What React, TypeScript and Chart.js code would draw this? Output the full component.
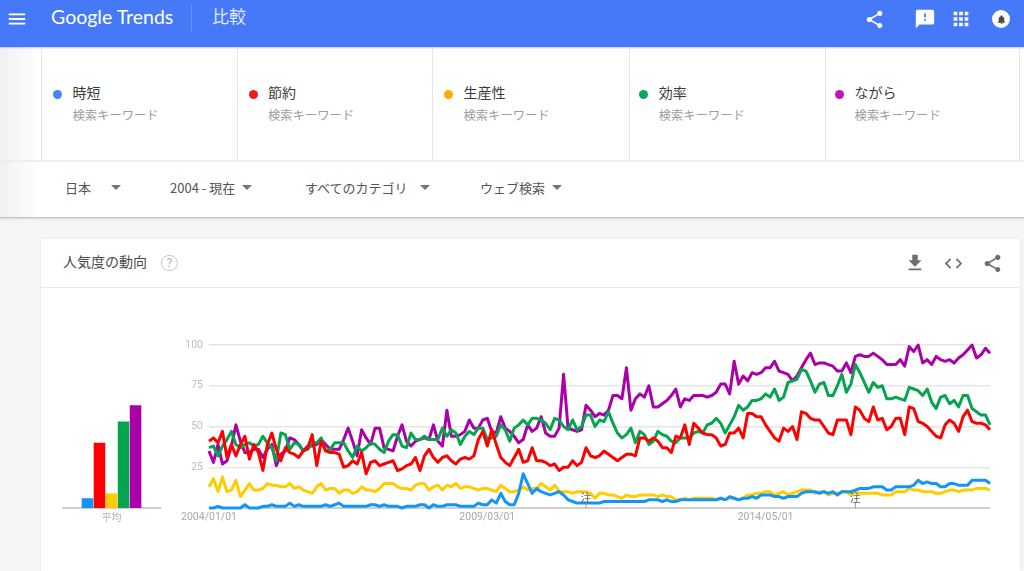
import React, { useEffect, useRef } from "react";
import { Chart, registerables } from "chart.js";

Chart.register(...registerables);

const seriesNames = ["時短", "節約", "生産性", "効率", "ながら"];
const lineColors = ["#1196f8", "#ff0000", "#ffcc00", "#06a44f", "#aa00aa"];
const dotColors = ["#4285f4", "#ee1c1c", "#fbae00", "#09a85a", "#c013c0"];
const averages = [6, 40, 9, 53, 63];
const tickLabels = ["2004/01/01", "2009/03/01", "2014/05/01"];
const noteDates = ["2011/01/01", "2016/01/01"];
const filters = ["日本", "2004 - 現在", "すべてのカテゴリ", "ウェブ検索"];

const months: string[] = [];
for (let y = 2004, m = 1; months.length < 175; m++) {
  if (m > 12) { m = 1; y++; }
  months.push(`${y}/${String(m).padStart(2, "0")}/01`);
}

const jitan = [
  0,0,1,0,0,0,0,0,2,0, 0,0,1,1,2,1,1,1,3,1, 2,1,1,1,1,1,2,1,2,3, 1,1,1,1,1,1,2,2,1,2, 1,1,1,0,1,1,1,2,2,0, 2,1,1,2,
  2,2,1,1,1,1,3,2,2,5, 3,9,4,2,2,9,21,15,9,12, 10,9,8,9,10,8,5,4,3,3, 3,3,3,3,4,4,4,4,4,4, 4,4,4,4,5,5,5,4,5,4, 4,5,5,5,5,5,5,5,5,5,
  6,5,7,6,5,6,6,7,6,8, 8,8,7,7,6,7,7,7,9,10, 10,10,9,10,9,10,8,10,10,10, 11,12,12,12,13,13,13,11,11,13, 13,13,13,14,17,15,16,15,15,13, 13,15,15,14,14,14,17,17,17,17, 15,
];
const setsuyaku = [
  41,43,40,47,31,39,32,39,44,30, 39,34,23,39,46,36,29,37,34,33, 31,35,37,45,26,41,35,34,34,33, 25,26,29,27,34,21,28,29,26,27, 28,29,23,24,26,27,31,23,32,36, 31,28,31,32,
  29,27,30,31,30,32,42,47,38,48, 39,31,28,26,31,36,28,29,37,29, 29,28,26,27,23,25,25,29,26,28, 37,32,31,32,35,33,31,29,31,33, 33,32,43,43,41,43,41,37,37,34, 44,43,51,39,52,49,46,45,45,43,
  38,39,46,46,49,43,58,58,56,56, 51,47,43,41,49,47,50,42,59,58, 55,54,54,50,46,45,54,54,54,45, 62,60,55,53,62,54,55,48,50,55, 55,45,62,61,53,52,50,47,44,43, 51,54,52,47,56,60,53,52,52,51, 48,
];
const seisansei = [
  13,18,10,19,10,11,17,7,11,15, 11,11,12,15,14,14,13,13,15,12, 13,11,10,9,13,15,11,12,12,9, 11,11,9,10,13,11,11,10,12,15, 15,15,13,12,12,11,14,15,15,11, 13,14,11,14,
  13,15,12,13,13,12,11,12,12,11, 10,14,12,10,10,11,13,11,12,12, 15,13,11,14,10,10,10,9,10,10, 10,9,6,9,9,8,8,7,6,8, 7,7,8,8,8,8,7,8,7,7, 5,5,6,5,6,6,6,6,6,5,
  6,5,6,6,5,6,8,8,9,9, 10,10,8,9,10,8,9,10,11,11, 11,9,10,10,8,9,9,10,10,8, 10,9,9,9,9,9,8,8,8,10, 10,10,12,11,11,10,10,10,9,9, 10,11,11,10,11,11,11,12,12,12, 11,
];
const kouritsu = [
  37,38,32,38,42,47,39,37,39,40, 38,39,44,40,37,29,46,45,36,40, 39,35,36,40,40,43,35,36,40,40, 40,35,31,38,35,37,40,39,36,34, 41,45,45,38,37,46,42,42,44,42, 42,42,49,44,
  48,46,39,44,47,45,49,49,42,43, 44,51,48,41,49,51,54,51,55,55, 54,52,48,55,54,50,48,54,48,50, 57,57,50,54,53,59,52,46,43,45, 49,40,47,45,39,41,47,45,44,41, 40,43,43,43,46,47,46,51,52,55,
  52,46,51,56,63,60,62,66,66,67, 70,68,73,66,68,77,78,79,85,84, 78,71,76,77,69,69,75,82,71,76, 88,83,77,71,77,74,75,67,67,68, 67,66,74,73,72,69,73,65,61,68, 69,64,66,62,69,69,61,59,57,57, 51,
];
const nagara = [
  35,28,39,27,29,38,51,41,34,34, 36,36,31,36,39,26,33,35,43,42, 39,35,38,38,39,42,39,36,36,36, 42,49,41,32,48,43,39,49,49,37, 36,35,44,51,41,38,41,42,43,42, 51,41,38,60,
  44,44,45,47,54,49,49,54,55,47, 46,56,49,47,44,40,42,51,47,49, 56,46,44,44,49,82,49,48,47,48, 63,60,56,58,57,60,69,69,67,86, 60,67,70,68,75,62,62,64,66,69, 73,62,67,66,69,69,69,68,69,71,
  76,76,70,90,76,81,78,83,82,83, 86,86,90,84,83,82,78,81,86,91, 95,88,89,89,88,87,84,84,89,83, 93,94,93,93,95,93,91,88,88,88, 91,87,99,96,100,89,91,88,93,91, 90,91,89,92,94,97,100,92,94,98, 95,
];
const seriesValues = [jitan, setsuyaku, seisansei, kouritsu, nagara];

const cjk = '"Noto Sans CJK JP", Roboto, sans-serif';
const icons = {
  menu: "M3 18h18v-2H3v2zm0-5h18v-2H3v2zm0-7v2h18V6H3z",
  share: "M18 16.08c-.76 0-1.44.3-1.96.77L8.91 12.7c.05-.23.09-.46.09-.7s-.04-.47-.09-.7l7.05-4.11c.54.5 1.25.81 2.04.81 1.66 0 3-1.34 3-3s-1.34-3-3-3-3 1.34-3 3c0 .24.04.47.09.7L8.04 9.81C7.5 9.31 6.79 9 6 9c-1.66 0-3 1.34-3 3s1.34 3 3 3c.79 0 1.5-.31 2.04-.81l7.12 4.16c-.05.21-.08.43-.08.65 0 1.61 1.31 2.92 2.92 2.92 1.61 0 2.92-1.31 2.92-2.92s-1.31-2.92-2.92-2.92z",
  feedback: "M20 2H4c-1.1 0-1.99.9-1.99 2L2 22l4-4h14c1.1 0 2-.9 2-2V4c0-1.1-.9-2-2-2zm-7 12h-2v-2h2v2zm0-4h-2V6h2v4z",
  apps: "M4 8h4V4H4v4zm6 12h4v-4h-4v4zm-6 0h4v-4H4v4zm0-6h4v-4H4v4zm6 0h4v-4h-4v4zm6-10v4h4V4h-4zm-6 4h4V4h-4v4zm6 6h4v-4h-4v4zm0 6h4v-4h-4v4z",
  download: "M19 9h-4V3H9v6H5l7 7 7-7zM5 18v2h14v-2H5z",
  code: "M9.4 16.6L4.8 12l4.6-4.6L8 6l-6 6 6 6 1.4-1.4zm5.2 0l4.6-4.6-4.6-4.6L16 6l6 6-6 6-1.4-1.4z",
  bell: "M12 22c1.1 0 2-.9 2-2h-4c0 1.1.89 2 2 2zm6-6v-5c0-3.07-1.64-5.64-4.5-6.32V4c0-.83-.67-1.5-1.5-1.5s-1.5.67-1.5 1.5v.68C7.63 5.36 6 7.92 6 11v5l-2 2v1h16v-1l-2-2z",
};

function Icon({ d, cx, cy, size, color }: { d: string; cx: number; cy: number; size: number; color: string }) {
  return (
    <svg viewBox="0 0 24 24" width={size} height={size}
      style={{ position: "absolute", left: cx - size / 2, top: cy - size / 2 }}>
      <path d={d} fill={color} />
    </svg>
  );
}

function Text({ x, cy, size, color, children, font }: any) {
  return (
    <div style={{ position: "absolute", left: x, top: cy - 15, height: 30, lineHeight: "30px", fontSize: size, color, fontFamily: font || cjk, whiteSpace: "nowrap" }}>
      {children}
    </div>
  );
}

function Arrow({ cx, cy }: { cx: number; cy: number }) {
  return (
    <div style={{ position: "absolute", left: cx - 5, top: cy - 2, width: 0, height: 0, borderLeft: "5px solid transparent", borderRight: "5px solid transparent", borderTop: "5px solid #757575" }} />
  );
}

const notePlugin = {
  id: "notes",
  afterDatasetsDraw(chart: any) {
    const { ctx, scales } = chart;
    ctx.save();
    noteDates.forEach((d) => {
      const x = scales.x.getPixelForValue(months.indexOf(d));
      const base = scales.y.getPixelForValue(0);
      ctx.strokeStyle = "#999";
      ctx.lineWidth = 1;
      ctx.beginPath();
      ctx.moveTo(x, base - 6);
      ctx.lineTo(x, base);
      ctx.stroke();
      ctx.fillStyle = "#666";
      ctx.font = `11px ${cjk}`;
      ctx.textAlign = "center";
      ctx.textBaseline = "middle";
      ctx.fillText("注", x, base - 10);
    });
    ctx.restore();
  },
};

export default function App() {
  const lineRef = useRef<HTMLCanvasElement>(null);
  const barRef = useRef<HTMLCanvasElement>(null);

  useEffect(() => {
    const lineChart = new Chart(lineRef.current as HTMLCanvasElement, {
      type: "line",
      data: {
        labels: months,
        datasets: seriesNames.map((name, i) => ({
          label: name,
          data: seriesValues[i],
          borderColor: lineColors[i],
          backgroundColor: lineColors[i],
          borderWidth: 3,
          pointRadius: 0,
          tension: 0,
          clip: false as any,
          borderJoinStyle: "round" as const,
        })),
      },
      options: {
        animation: false,
        responsive: false,
        layout: { padding: { top: 15, right: 10, left: 0, bottom: 0 } },
        plugins: { legend: { display: false }, tooltip: { enabled: false } },
        scales: {
          x: {
            grid: { display: false, drawTicks: false },
            border: { display: false },
            afterFit: (s: any) => { s.height = 22; },
            ticks: {
              autoSkip: false, maxRotation: 0, minRotation: 0, padding: 3,
              color: "#a8a8a8", font: { family: "Roboto", size: 10.5 },
              callback: function (this: any, v: any) {
                const l = this.getLabelForValue(v);
                return tickLabels.includes(l) ? l : "";
              },
            },
          },
          y: {
            min: 0, max: 100,
            afterFit: (s: any) => { s.width = 39; },
            border: { display: false },
            grid: {
              drawTicks: false,
              color: (c: any) => (c.tick.value === 0 ? "#cfcfcf" : "#e6e6e6"),
              lineWidth: (c: any) => (c.tick.value === 0 ? 2 : 1.5),
            },
            afterBuildTicks: (s: any) => { s.ticks = [0, 25, 50, 75, 100].map((value) => ({ value })); },
            ticks: {
              padding: 6, color: "#bdbdbd", font: { family: "Roboto", size: 10.5 },
              callback: (v: any) => (v === 0 ? "" : String(v)),
            },
          },
        },
      },
      plugins: [notePlugin],
    });

    const barChart = new Chart(barRef.current as HTMLCanvasElement, {
      type: "bar",
      data: {
        labels: ["平均"],
        datasets: seriesNames.map((name, i) => ({
          label: name,
          data: [averages[i]],
          backgroundColor: lineColors[i],
          barPercentage: 0.96,
          categoryPercentage: 0.62,
        })),
      },
      options: {
        animation: false,
        responsive: false,
        layout: { padding: { top: 15, left: 3, right: 10, bottom: 0 } },
        plugins: { legend: { display: false }, tooltip: { enabled: false } },
        scales: {
          x: {
            grid: { display: false, drawTicks: false },
            border: { color: "#cfcfcf", width: 2 },
            afterFit: (s: any) => { s.height = 22; },
            ticks: { padding: 3, color: "#b5b5b5", font: { family: cjk, size: 10 } },
          },
          y: { display: false, min: 0, max: 100 },
        },
      },
    });

    return () => {
      lineChart.destroy();
      barChart.destroy();
    };
  }, []);

  const dividers = [41, 237, 432, 629, 825, 1019];
  const dotX = [57.5, 253, 448.5, 643.7, 839.5];
  const filterX = [65, 170, 305, 480];
  const arrowX = [116, 247, 425, 557];

  return (
    <div style={{ position: "relative", width: 1024, height: 571, overflow: "hidden", background: "#f5f5f5" }}>
      <style>{"html,body{margin:0;padding:0;background:#fff}"}</style>

      <div style={{ position: "absolute", left: 0, top: 47, width: 1024, height: 113, background: "#fff" }} />
      <div style={{ position: "absolute", left: 0, top: 47, width: 41, height: 113, background: "linear-gradient(90deg,#f1f1f1,#fff)" }} />
      <div style={{ position: "absolute", left: 0, top: 160, width: 1024, height: 2, background: "#efefef" }} />
      <div style={{ position: "absolute", left: 0, top: 162, width: 1024, height: 55, background: "#fff", borderBottom: "1px solid #c4c4c4", boxShadow: "0 1px 2px rgba(0,0,0,.12)" }} />
      <div style={{ position: "absolute", left: 0, top: 162, width: 41, height: 55, background: "linear-gradient(90deg,#f1f1f1,#fff)" }} />
      <div style={{ position: "absolute", left: 0, top: 47, width: 1024, height: 2, background: "linear-gradient(#bcc4d4,transparent)" }} />
      <div style={{ position: "absolute", left: 0, top: 0, width: 1024, height: 47, background: "#4679f8" }} />

      <Icon d={icons.menu} cx={17} cy={19} size={22} color="#fff" />
      <Text x={51} cy={17} size={19.5} color="#fff" font="Lato, Roboto, sans-serif">Google Trends</Text>
      <div style={{ position: "absolute", left: 191, top: 5, width: 1, height: 28, background: "#6a94fa" }} />
      <Text x={212} cy={16} size={17} color="#e3ebff">比較</Text>
      <Icon d={icons.share} cx={874} cy={19} size={21} color="#fff" />
      <Icon d={icons.feedback} cx={925} cy={19} size={22} color="#fff" />
      <Icon d={icons.apps} cx={961} cy={19} size={22} color="#fff" />
      <div style={{ position: "absolute", left: 992, top: 10, width: 18, height: 18, borderRadius: 9, background: "#fff" }} />
      <Icon d={icons.bell} cx={1001} cy={19} size={11} color="#4a4a4a" />

      {dividers.map((x) => (
        <div key={x} style={{ position: "absolute", left: x, top: 47, width: 1, height: 113, background: "#e4e4e4" }} />
      ))}
      {seriesNames.map((name, i) => (
        <React.Fragment key={name}>
          <div style={{ position: "absolute", left: dotX[i] - 4.5, top: 90, width: 9, height: 9, borderRadius: "50%", background: dotColors[i] }} />
          <Text x={dotX[i] + 15} cy={92} size={14} color="#3c3c3c">{name}</Text>
          <Text x={dotX[i] + 15} cy={115} size={12.3} color="#9e9e9e">検索キーワード</Text>
        </React.Fragment>
      ))}

      {filters.map((f, i) => (
        <React.Fragment key={f}>
          <Text x={filterX[i]} cy={188} size={13} color="#555">{f}</Text>
          <Arrow cx={arrowX[i]} cy={187} />
        </React.Fragment>
      ))}

      <div style={{ position: "absolute", left: 41, top: 239, width: 979, height: 332, background: "#fff", boxShadow: "0 0 2px rgba(0,0,0,.08)" }} />
      <div style={{ position: "absolute", left: 41, top: 287, width: 979, height: 1, background: "#e8e8e8" }} />
      <Text x={63} cy={261} size={14} color="#4a4a4a">人気度の動向</Text>
      <div style={{ position: "absolute", left: 161, top: 254.5, width: 14.5, height: 14.5, borderRadius: "50%", border: "1.5px solid #c8c8c8", textAlign: "center", lineHeight: "14.5px", fontSize: 12, color: "#b5b5b5", fontFamily: "Roboto" }}>?</div>
      <Icon d={icons.download} cx={915} cy={263} size={22} color="#6e6e6e" />
      <Icon d={icons.code} cx={953} cy={263} size={21} color="#6e6e6e" />
      <Icon d={icons.share} cx={992} cy={263} size={21} color="#6e6e6e" />

      <canvas ref={barRef} width={110} height={200} style={{ position: "absolute", left: 60, top: 330 }} />
      <canvas ref={lineRef} width={830} height={200} style={{ position: "absolute", left: 170, top: 330 }} />
    </div>
  );
}
